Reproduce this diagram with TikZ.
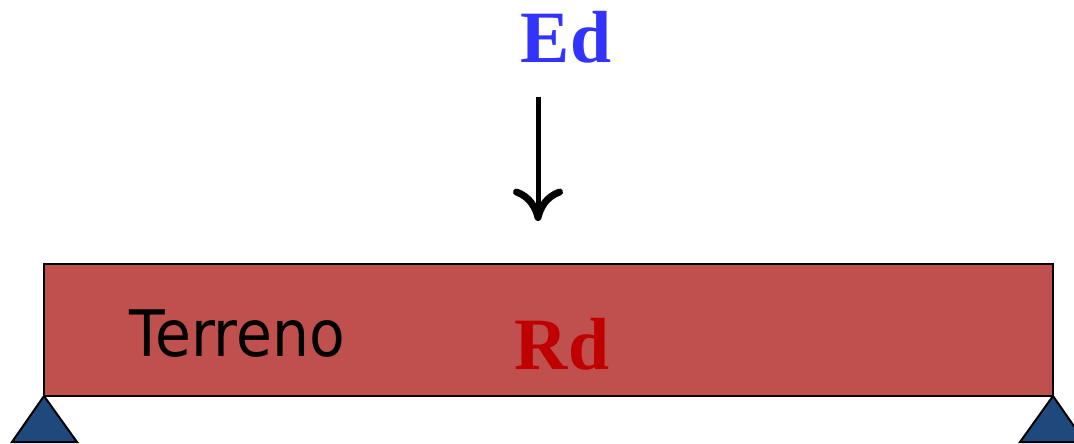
\documentclass[tikz,border=0pt]{standalone}
\usepackage{fontspec}
\setmainfont{Liberation Serif}
\newfontfamily\labelfont{DejaVu Sans}
\usetikzlibrary{arrows.meta}
\definecolor{beamred}{HTML}{C0504D}
\definecolor{loadblue}{HTML}{3333FF}
\definecolor{resred}{HTML}{C00000}
\definecolor{supportblue}{HTML}{1F497D}
\begin{document}
\begin{tikzpicture}[x=0.2mm, y=0.2mm]
    % frame
    \useasboundingbox (0,0) rectangle (1074,443);
    \clip (0,0) rectangle (1074,443);
    % main coordinates
    \coordinate (beam-bl)   at (44,47)  ;
    \coordinate (beam-tr)   at (1053,179);
    \coordinate (beam-br)   at (1053,47);
    \coordinate (load-top)  at (538,346);
    \coordinate (load-tip)  at (538,222);
    % draw beam
    \draw [fill=beamred, line width=0.4mm] (beam-bl) rectangle (beam-tr);
    % draw supports
    \draw [fill=supportblue, line width=0.4mm]
    (beam-bl) -- ++(-32,-46) -- ++(65,0) -- cycle;
    \draw [fill=supportblue, line width=0.4mm]
    (beam-br) -- ++(-33,-46) -- ++(65,0) -- cycle;
    % draw load arrow
    \draw [line width=1mm,
    -{Computer Modern Rightarrow[length=6.5mm, width=10mm, line width=1.4mm]}]
    (load-top) -- (load-tip);
    % annotations
    \node[anchor=base, text=loadblue, font=\bfseries\fontsize{42}{42}\selectfont,
          inner sep=0pt] (ed) at (566,381) {Ed};
    \node[anchor=base, text=resred, font=\bfseries\fontsize{42}{42}\selectfont,
          inner sep=0pt] (rd) at (562,74) {Rd};
    \node[anchor=base west, xscale=0.91, font=\labelfont\fontsize{36.5}{36.5}\selectfont,
          inner sep=0pt] (terreno) at (129,87) {Terreno};
\end{tikzpicture}
\end{document}
